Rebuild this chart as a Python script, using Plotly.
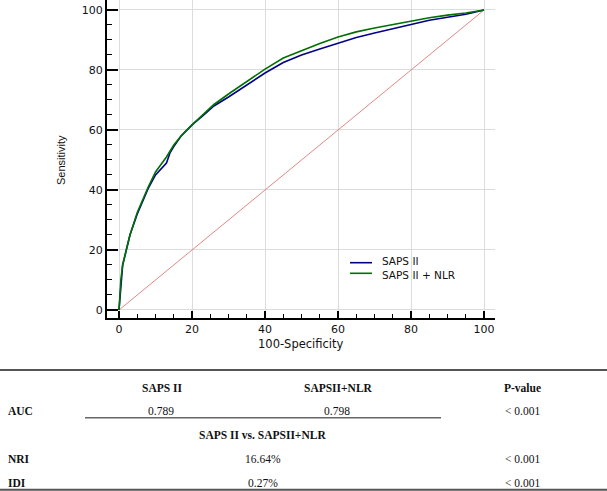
import plotly.graph_objects as go

# ---- data ----
saps_fpr = [0, 0.3, 0.5, 1, 2, 3, 5, 7, 8, 10, 12, 13, 14, 15, 17, 20, 23, 26, 30, 35, 40, 45, 50, 55, 60, 65, 70, 75, 80, 85, 90, 95, 100]
saps_tpr = [0, 5, 10, 15, 20, 25, 32, 38, 40.5, 45, 47.5, 49, 52.5, 54.5, 58, 61.7, 64.8, 68, 71, 75, 79, 82.5, 85, 87, 89, 90.8, 92.3, 93.8, 95.3, 96.6, 97.6, 98.6, 100]
nlr_fpr = [0, 0.3, 0.5, 1, 2, 3, 5, 7, 8, 10, 12, 13, 15, 17, 20, 23, 26, 30, 35, 40, 45, 50, 55, 60, 65, 70, 75, 80, 85, 90, 95, 100]
nlr_tpr = [0, 6, 10, 15, 20, 25, 32.5, 38.5, 41, 46, 49.5, 51, 55, 58, 61.7, 65, 68.5, 72, 76.2, 80.3, 84, 86.5, 88.8, 91, 92.7, 94, 95.2, 96.4, 97.4, 98.3, 99, 100]
diag = [0, 100]
series_names = ["SAPS II", "SAPS II + NLR"]
series_colors = ["#00008B", "#007000"]
axis_ticks = [0, 20, 40, 60, 80, 100]

table_header = ["SAPS II", "SAPSII+NLR", "P-value"]
auc_row = ["AUC", "0.789", "0.798", "< 0.001"]
compare_title = "SAPS II vs. SAPSII+NLR"
nri_row = ["NRI", "16.64%", "< 0.001"]
idi_row = ["IDI", "0.27%", "< 0.001"]

# ---- geometry helpers (pixels -> paper) ----
L, R, T, B = 107, 495, 0, 318
W, H = 607, 491
def px(x):
    return (x - L) / (R - L)
def py(y):
    return (B - y) / (B - T)

fig = go.Figure()
fig.add_trace(go.Scatter(x=diag, y=diag, mode="lines", line=dict(color="#E08888", width=1), showlegend=False, hoverinfo="skip"))
fig.add_trace(go.Scatter(x=saps_fpr, y=saps_tpr, mode="lines", name=series_names[0], line=dict(color=series_colors[0], width=1.6), showlegend=False))
fig.add_trace(go.Scatter(x=nlr_fpr, y=nlr_tpr, mode="lines", name=series_names[1], line=dict(color=series_colors[1], width=1.6), showlegend=False))

tickfont = dict(family="DejaVu Sans", size=11, color="#111")
fig.update_xaxes(range=[-3.29, 103.0], tickvals=axis_ticks, ticks="inside", ticklen=7, tickwidth=1.5, tickcolor="#000",
                 showline=True, linecolor="#000", linewidth=2, showgrid=True, gridcolor="#DCDCDC", gridwidth=1,
                 zeroline=False, tickfont=tickfont, automargin=False,
                 minor=dict(ticks="inside", dtick=5, ticklen=4, tickwidth=1.2, tickcolor="#000", showgrid=False))
fig.update_yaxes(range=[-2.67, 103.33], tickvals=axis_ticks, ticks="inside", ticklen=11, tickwidth=1.5, tickcolor="#000",
                 showline=True, linecolor="#000", linewidth=2, showgrid=True, gridcolor="#DCDCDC", gridwidth=1,
                 zeroline=False, tickfont=tickfont, automargin=False,
                 minor=dict(ticks="inside", dtick=5, ticklen=5, tickwidth=1.2, tickcolor="#000", showgrid=False))

ann = []
shapes = []
# axis titles
ann.append(dict(text="100-Specificity", x=px(301), y=py(344), xref="paper", yref="paper", showarrow=False,
                xanchor="center", yanchor="middle", font=dict(family="DejaVu Sans", size=11.5, color="#111")))
ann.append(dict(text="Sensitivity", x=px(61), y=py(160), xref="paper", yref="paper", showarrow=False, textangle=-90,
                xanchor="center", yanchor="middle", font=dict(family="Liberation Sans", size=11, color="#111")))
# manual legend
for nm, col, yl, yt in zip(series_names, series_colors, [262.7, 273.3], [261.3, 274.5]):
    shapes.append(dict(type="line", xref="paper", yref="paper", x0=px(350), x1=px(372), y0=py(yl), y1=py(yl),
                       line=dict(color=col, width=1.6)))
    ann.append(dict(text=nm, x=px(380), y=py(yt), xref="paper", yref="paper", showarrow=False,
                    xanchor="left", yanchor="middle", font=dict(family="DejaVu Sans", size=10.5, color="#111")))

# table
serif = "Liberation Serif"
def cell(text, x, y, bold=False, anchor="center"):
    t = f"<b>{text}</b>" if bold else text
    ann.append(dict(text=t, x=px(x), y=py(y), xref="paper", yref="paper", showarrow=False,
                    xanchor=anchor, yanchor="middle", font=dict(family=serif, size=11.5, color="#111")))

cell(table_header[0], 162, 388, True)
cell(table_header[1], 338, 388, True)
cell(table_header[2], 522, 388, True)
cell(auc_row[0], 6, 411, True, "left")
cell(auc_row[1], 161, 411)
cell(auc_row[2], 337, 411)
cell(auc_row[3], 522, 411)
cell(compare_title, 262, 435, True)
cell(nri_row[0], 6, 459, True, "left")
cell(nri_row[1], 263, 459)
cell(nri_row[2], 522, 459)
cell(idi_row[0], 6, 482.5, True, "left")
cell(idi_row[1], 263, 482.5)
cell(idi_row[2], 522, 482.5)

for (x0, x1, yy, wd, col) in [(0, 607, 370, 2, "#555"), (85, 441, 417.7, 1.5, "#666"), (0, 607, 489.8, 2, "#555")]:
    shapes.append(dict(type="line", xref="paper", yref="paper", x0=px(x0), x1=px(x1), y0=py(yy), y1=py(yy),
                       line=dict(color=col, width=wd)))

fig.update_layout(width=W, height=H, margin=dict(l=L, r=W - R, t=T, b=H - B, autoexpand=False),
                  paper_bgcolor="white", plot_bgcolor="white", annotations=ann, shapes=shapes,
                  showlegend=False)
fig.write_html("out.html", config={"displayModeBar": False},
               post_script="document.body.style.margin='0';document.body.style.overflow='hidden';")
